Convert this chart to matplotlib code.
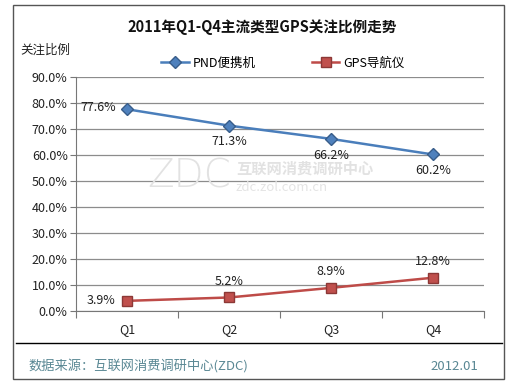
import matplotlib
matplotlib.use('Agg')
from matplotlib import pyplot as plt
from matplotlib.patches import Rectangle
from matplotlib.lines import Line2D
from matplotlib.ticker import FuncFormatter

plt.rcParams['font.family'] = ['Noto Sans CJK SC', 'DejaVu Sans']

# data
quarters = ['Q1', 'Q2', 'Q3', 'Q4']
pnd_values = [77.6, 71.3, 66.2, 60.2]
gps_values = [3.9, 5.2, 8.9, 12.8]
series_names = ['PND便携机', 'GPS导航仪']

W, H = 529, 384
fig = plt.figure(figsize=(W / 100, H / 100), dpi=100)
fig.patch.set_facecolor('white')


def fx(px):
    return px / W


def fy(py):
    return 1 - py / H


# outer frame and separator
fig.add_artist(Rectangle((fx(13), fy(379)), fx(504) - fx(13), fy(5) - fy(379),
                         transform=fig.transFigure, fill=False, edgecolor='#555555', lw=1.0))
fig.add_artist(Line2D([fx(16), fx(502)], [fy(343), fy(343)], transform=fig.transFigure,
                      color='black', lw=1.0))

# watermark
fig.text(fx(147), fy(177), 'ZDC', fontsize=28, color='#e2e2e2', family='DejaVu Sans',
         fontweight='light', va='center', ha='left', zorder=0)
fig.text(fx(236), fy(169), '互联网消费调研中心', fontsize=11, color='#e2e2e2',
         va='center', ha='left', fontweight='bold', zorder=0)
fig.text(fx(236), fy(188), 'zdc.zol.com.cn', fontsize=9.5, color='#e4e4e4',
         va='center', ha='left', zorder=0)

ax = fig.add_axes([fx(76), fy(311), fx(484) - fx(76), fy(77) - fy(311)])
ax.patch.set_alpha(0)
x = list(range(len(quarters)))

ax.set_xlim(-0.5, 3.5)
ax.set_ylim(0, 90)
ax.set_yticks(range(0, 91, 10))
ax.yaxis.set_major_formatter(FuncFormatter(lambda v, p: f'{v:.1f}%'))
ax.grid(axis='y', color='#8c8c8c', lw=0.9)
ax.set_axisbelow(True)
for s in ['top', 'right']:
    ax.spines[s].set_visible(False)
ax.spines['left'].set_color('#777777')
ax.spines['bottom'].set_color('#777777')
ax.tick_params(axis='y', length=4, color='#777777', labelsize=9, labelcolor='#222222', pad=2)
ax.set_xticks([-0.5, 0.5, 1.5, 2.5, 3.5])
ax.set_xticklabels([])
ax.set_xticks(x, minor=True)
ax.set_xticklabels(quarters, minor=True)
ax.tick_params(axis='x', which='major', length=5, color='#777777', direction='out')
ax.tick_params(axis='x', which='minor', length=0, labelsize=9, labelcolor='#222222', pad=9)

ax.plot(x, pnd_values, color='#4a7ebb', lw=1.8, marker='D', markersize=6,
        markerfacecolor='#4f81bd', markeredgecolor='#385d8a', label=series_names[0], zorder=3)
ax.plot(x, gps_values, color='#be4b48', lw=1.8, marker='s', markersize=7,
        markerfacecolor='#c0504d', markeredgecolor='#8c3836', label=series_names[1], zorder=3)

# data labels
for i, v in enumerate(pnd_values):
    if i == 0:
        ax.annotate(f'{v:.1f}%', (i, v), xytext=(-8, 1), textcoords='offset points',
                    ha='right', va='center', fontsize=9, color='#222222')
    else:
        ax.annotate(f'{v:.1f}%', (i, v), xytext=(0, -7), textcoords='offset points',
                    ha='center', va='top', fontsize=9, color='#222222')
for i, v in enumerate(gps_values):
    if i == 0:
        ax.annotate(f'{v:.1f}%', (i, v), xytext=(-8, 0), textcoords='offset points',
                    ha='right', va='center', fontsize=9, color='#222222')
    else:
        ax.annotate(f'{v:.1f}%', (i, v), xytext=(0, 7), textcoords='offset points',
                    ha='center', va='bottom', fontsize=9, color='#222222')

# title, axis label, legend
fig.text(fx(262), fy(27), '2011年Q1-Q4主流类型GPS关注比例走势', ha='center', va='center',
         fontsize=10.5, fontweight='bold', color='#111111')
fig.text(fx(20), fy(50), '关注比例', ha='left', va='center', fontsize=9, color='#222222')
ax.legend(loc='center', bbox_to_anchor=(fx(283), fy(63)), bbox_transform=fig.transFigure,
          ncol=2, frameon=False, fontsize=9, handlelength=2.2, columnspacing=4.5,
          handletextpad=0.3)

# footer
fig.text(fx(28), fy(366), '数据来源：互联网消费调研中心(ZDC)', ha='left', va='center',
         fontsize=9.5, color='#5a8894')
fig.text(fx(478), fy(366), '2012.01', ha='right', va='center', fontsize=9.5, color='#5a8894')

fig.savefig('out.png', dpi=100)
